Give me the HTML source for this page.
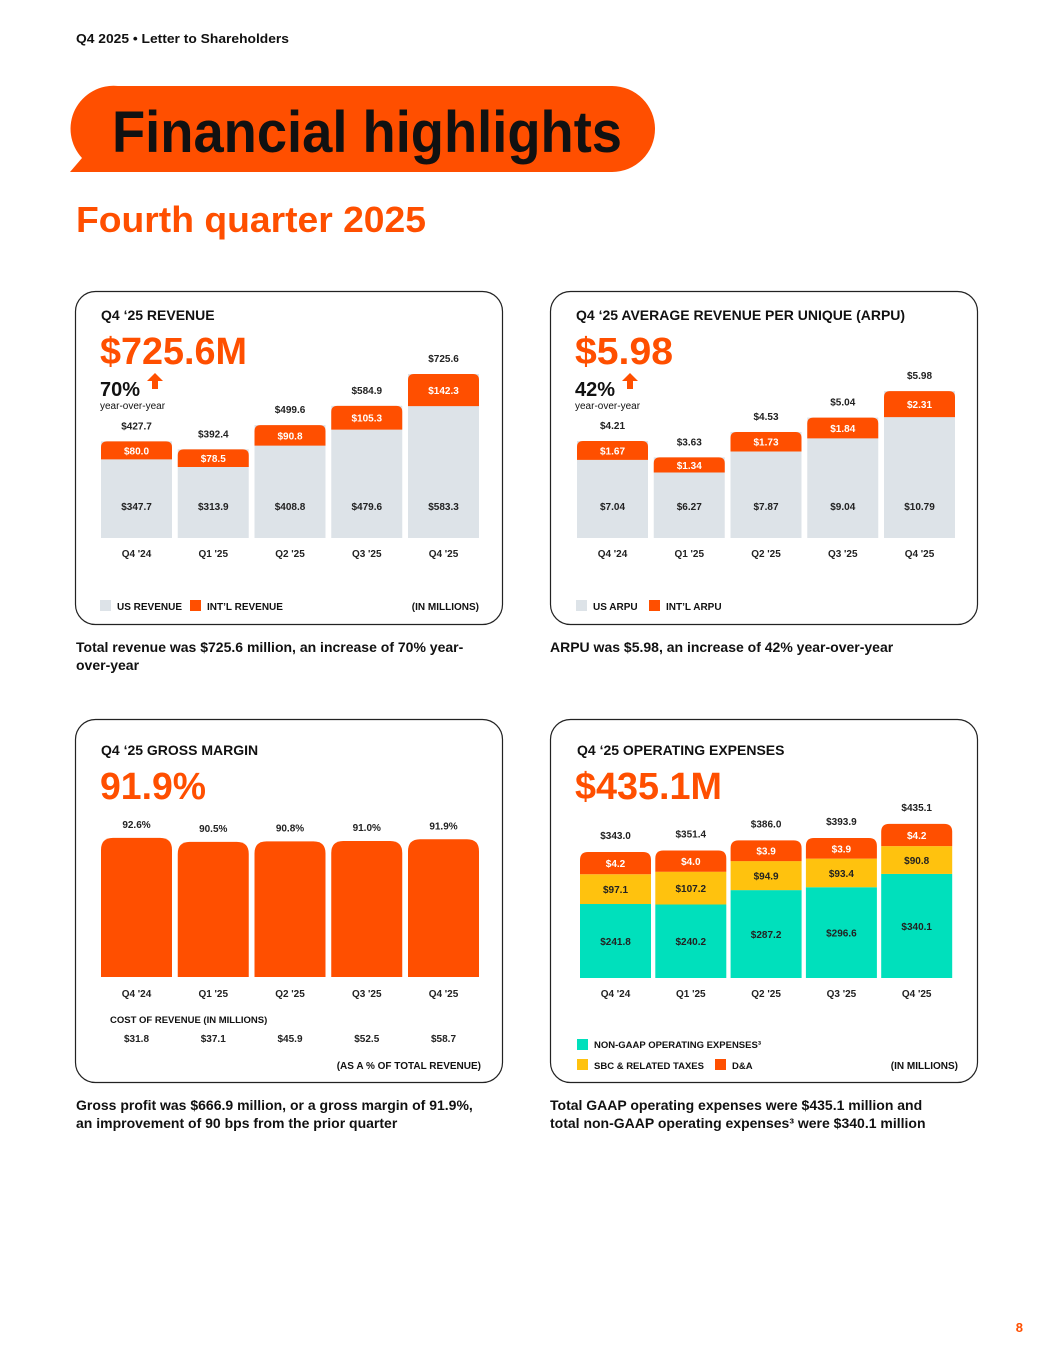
<!DOCTYPE html>
<html><head><meta charset="utf-8"><style>
html,body{margin:0;padding:0;background:#fff}
svg{display:block;font-family:"Liberation Sans",sans-serif}
</style></head><body>
<svg id="pg" width="1055" height="1365" viewBox="0 0 1055 1365" xmlns="http://www.w3.org/2000/svg">
<text x="76" y="43" font-size="13" font-weight="bold" fill="#111" textLength="213" lengthAdjust="spacingAndGlyphs">Q4 2025 • Letter to Shareholders</text>
<path d="M118,86 H612 A43,43 0 0 1 612,172 H70 L82,158 A43,43 0 0 1 118,86 Z" fill="#FF4F00"/>
<text x="112" y="152" font-size="58" font-weight="bold" fill="#111" textLength="510" lengthAdjust="spacingAndGlyphs">Financial highlights</text>
<text x="76" y="232" font-size="36" font-weight="bold" fill="#FF4F00" textLength="350" lengthAdjust="spacingAndGlyphs">Fourth quarter 2025</text>

<rect x="75.5" y="291.5" width="427" height="333" rx="20" fill="none" stroke="#222" stroke-width="1.2"/>
<rect x="550.5" y="291.5" width="427" height="333" rx="20" fill="none" stroke="#222" stroke-width="1.2"/>
<rect x="75.5" y="719.5" width="427" height="363" rx="20" fill="none" stroke="#222" stroke-width="1.2"/>
<rect x="550.5" y="719.5" width="427" height="363" rx="20" fill="none" stroke="#222" stroke-width="1.2"/>

<text x="101" y="320" font-size="14" font-weight="bold" fill="#111">Q4 ‘25 REVENUE</text>
<text x="100" y="364" font-size="38" font-weight="bold" fill="#FF4F00" textLength="147" lengthAdjust="spacingAndGlyphs">$725.6M</text>
<text x="100" y="396" font-size="20" font-weight="bold" fill="#111">70%</text>
<path d="M147,381 l8,-8 l8,8 h-5 v8 h-6 v-8 z" fill="#FF4F00"/>
<text x="100" y="409" font-size="10" fill="#111">year-over-year</text>

<text x="576" y="320" font-size="14" font-weight="bold" fill="#111">Q4 ‘25 AVERAGE REVENUE PER UNIQUE (ARPU)</text>
<text x="575" y="364" font-size="38" font-weight="bold" fill="#FF4F00" textLength="98" lengthAdjust="spacingAndGlyphs">$5.98</text>
<text x="575" y="396" font-size="20" font-weight="bold" fill="#111">42%</text>
<path d="M622,381 l8,-8 l8,8 h-5 v8 h-6 v-8 z" fill="#FF4F00"/>
<text x="575" y="409" font-size="10" fill="#111">year-over-year</text>

<text x="101" y="755" font-size="14" font-weight="bold" fill="#111">Q4 ‘25 GROSS MARGIN</text>
<text x="100" y="799" font-size="38" font-weight="bold" fill="#FF4F00" textLength="106" lengthAdjust="spacingAndGlyphs">91.9%</text>

<text x="577" y="755" font-size="14" font-weight="bold" fill="#111">Q4 ‘25 OPERATING EXPENSES</text>
<text x="575" y="799" font-size="38" font-weight="bold" fill="#FF4F00" textLength="147" lengthAdjust="spacingAndGlyphs">$435.1M</text>

<rect x="100" y="600" width="11" height="11" fill="#DDE3E8"/>
<text x="117" y="610" font-size="10" font-weight="bold" fill="#111">US REVENUE</text>
<rect x="190" y="600" width="11" height="11" fill="#FF4F00"/>
<text x="207" y="610" font-size="10" font-weight="bold" fill="#111">INT’L REVENUE</text>
<text x="479" y="610" font-size="10" font-weight="bold" fill="#111" text-anchor="end">(IN MILLIONS)</text>

<rect x="576" y="600" width="11" height="11" fill="#DDE3E8"/>
<text x="593" y="610" font-size="10" font-weight="bold" fill="#111">US ARPU</text>
<rect x="649" y="600" width="11" height="11" fill="#FF4F00"/>
<text x="666" y="610" font-size="10" font-weight="bold" fill="#111">INT’L ARPU</text>

<text x="110" y="1023" font-size="9.5" font-weight="bold" fill="#111">COST OF REVENUE (IN MILLIONS)</text>
<text x="481" y="1069" font-size="10" font-weight="bold" fill="#111" text-anchor="end">(AS A % OF TOTAL REVENUE)</text>

<rect x="577" y="1039" width="11" height="11" fill="#00E0BC"/>
<text x="594" y="1048" font-size="9.5" font-weight="bold" fill="#111">NON-GAAP OPERATING EXPENSES³</text>
<rect x="577" y="1059" width="11" height="11" fill="#FFC20E"/>
<text x="594" y="1069" font-size="9.5" font-weight="bold" fill="#111">SBC &amp; RELATED TAXES</text>
<rect x="715" y="1059" width="11" height="11" fill="#FF4F00"/>
<text x="732" y="1069" font-size="9.5" font-weight="bold" fill="#111">D&amp;A</text>
<text x="958" y="1069" font-size="10" font-weight="bold" fill="#111" text-anchor="end">(IN MILLIONS)</text>

<text font-size="14" font-weight="bold" fill="#111"><tspan x="76" y="652">Total revenue was $725.6 million, an increase of 70% year-</tspan><tspan x="76" y="670">over-year</tspan></text>
<text x="550" y="652" font-size="14" font-weight="bold" fill="#111">ARPU was $5.98, an increase of 42% year-over-year</text>
<text font-size="14" font-weight="bold" fill="#111"><tspan x="76" y="1110">Gross profit was $666.9 million, or a gross margin of 91.9%,</tspan><tspan x="76" y="1128">an improvement of 90 bps from the prior quarter</tspan></text>
<text font-size="14" font-weight="bold" fill="#111"><tspan x="550" y="1110">Total GAAP operating expenses were $435.1 million and</tspan><tspan x="550" y="1128">total non-GAAP operating expenses³ were $340.1 million</tspan></text>
<text x="1023" y="1332" font-size="13" font-weight="bold" fill="#FF4F00" text-anchor="end">8</text>
<g id="charts"></g>
</svg>
<script>
const quarters = ["Q4 '24","Q1 '25","Q2 '25","Q3 '25","Q4 '25"];
const usRevenue = [347.7,313.9,408.8,479.6,583.3];
const intlRevenue = [80.0,78.5,90.8,105.3,142.3];
const totalRevenue = [427.7,392.4,499.6,584.9,725.6];
const usArpu = [7.04,6.27,7.87,9.04,10.79];
const intlArpu = [1.67,1.34,1.73,1.84,2.31];
const totalArpu = [4.21,3.63,4.53,5.04,5.98];
const grossMargin = [92.6,90.5,90.8,91.0,91.9];
const costOfRevenue = [31.8,37.1,45.9,52.5,58.7];
const opexNonGaap = [241.8,240.2,287.2,296.6,340.1];
const opexSbc = [97.1,107.2,94.9,93.4,90.8];
const opexDa = [4.2,4.0,3.9,3.9,4.2];
const opexTotal = [343.0,351.4,386.0,393.9,435.1];

const NS="http://www.w3.org/2000/svg";
const g=document.getElementById('charts');
const OR="#FF4F00",GR="#DDE3E8",TE="#00E0BC",YE="#FFC20E";
function el(tag,attrs,parent){const e=document.createElementNS(NS,tag);for(const k in attrs)e.setAttribute(k,attrs[k]);(parent||g).appendChild(e);return e;}
function txt(x,y,s,opt){const t=el('text',Object.assign({x:x,y:y,'font-size':10,'font-weight':'bold',fill:'#222','text-anchor':'middle'},opt||{}));t.textContent=s;return t;}
function topRound(x,y,w,h,r){r=Math.min(r,h);return `M${x},${y+h} V${y+r} Q${x},${y} ${x+r},${y} H${x+w-r} Q${x+w},${y} ${x+w},${y+r} V${y+h} Z`;}
const W=71,P=76.75;
function bx(x0,i,p){return x0+i*(p||P);}

const revBase=538, revK=0.226;
quarters.forEach((q,i)=>{
  const x=bx(101,i), ht=totalRevenue[i]*revK, hi=intlRevenue[i]*revK;
  let r=el('rect',{x:x,y:revBase-ht,width:W,height:ht,fill:GR});
  
  
  let p=el('path',{d:topRound(x,revBase-ht,W,hi,6),fill:OR});
  
  
  txt(x+W/2,revBase-ht+hi/2+4,'$'+intlRevenue[i].toFixed(1),{fill:'#fff'});
  txt(x+W/2,510,'$'+usRevenue[i].toFixed(1));
  txt(x+W/2,revBase-ht-12,'$'+totalRevenue[i].toFixed(1));
  txt(x+W/2,557,q);
});

const arpuBase=538, arpuK=28.2, arpuMin=0.77, arpuIntlK=11.3;
quarters.forEach((q,i)=>{
  const x=bx(577,i), ht=(totalArpu[i]-arpuMin)*arpuK, hi=intlArpu[i]*arpuIntlK;
  let r=el('rect',{x:x,y:arpuBase-ht,width:W,height:ht,fill:GR});
  
  
  let p=el('path',{d:topRound(x,arpuBase-ht,W,hi,6),fill:OR});
  
  
  txt(x+W/2,arpuBase-ht+hi/2+4,'$'+intlArpu[i].toFixed(2),{fill:'#fff'});
  txt(x+W/2,510,'$'+usArpu[i].toFixed(2));
  txt(x+W/2,arpuBase-ht-12,'$'+totalArpu[i].toFixed(2));
  txt(x+W/2,557,q);
});

const gmBase=977, gmK=1.9, gmMin=19.4;
quarters.forEach((q,i)=>{
  const x=bx(101,i), h=(grossMargin[i]-gmMin)*gmK;
  let p=el('path',{d:topRound(x,gmBase-h,W,h,12),fill:OR});
  
  
  txt(x+W/2,gmBase-h-10,grossMargin[i].toFixed(1)+'%');
  txt(x+W/2,997,q);
  txt(x+W/2,1042,'$'+costOfRevenue[i].toFixed(1));
});

const opBase=978, opK=0.306, opDaK=5.3, opP=75.3;
quarters.forEach((q,i)=>{
  const x=bx(580,i,opP);
  const hn=opexNonGaap[i]*opK, hs=opexSbc[i]*opK, hd=opexDa[i]*opDaK;
  let a=el('rect',{x:x,y:opBase-hn,width:W,height:hn,fill:TE});
  
  
  let b=el('rect',{x:x,y:opBase-hn-hs,width:W,height:hs,fill:YE});
  
  
  const ty=opBase-hn-hs-hd;
  let c=el('path',{d:topRound(x,ty,W,hd,8),fill:OR});
  
  
  txt(x+W/2,ty+hd/2+4,'$'+opexDa[i].toFixed(1),{fill:'#fff'});
  txt(x+W/2,opBase-hn-hs/2+4,'$'+opexSbc[i].toFixed(1));
  txt(x+W/2,opBase-hn/2+4,'$'+opexNonGaap[i].toFixed(1));
  txt(x+W/2,ty-13,'$'+opexTotal[i].toFixed(1));
  txt(x+W/2,997,q);
});
</script>
</body></html>
